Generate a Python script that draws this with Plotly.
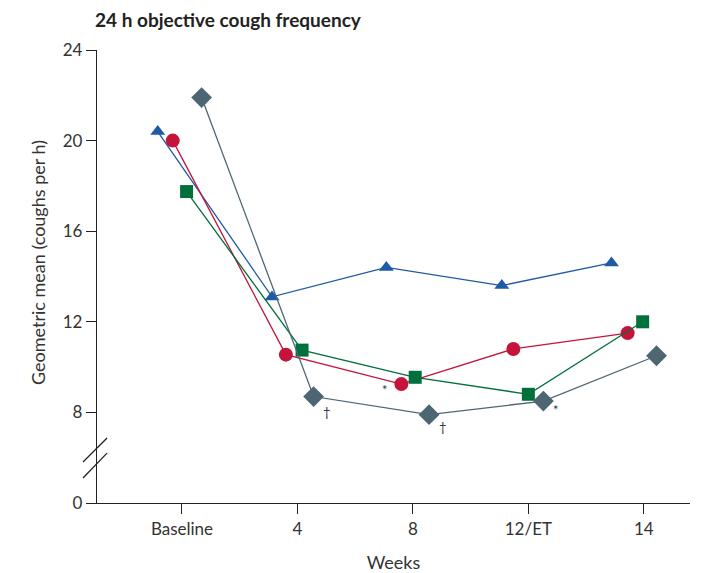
import plotly.graph_objects as go

# ---- data ----
week_labels = ["Baseline", "4", "8", "12/ET", "14"]
week_pos = [0, 1, 2, 3, 4]

tri_x = [-0.21, 0.78, 1.77, 2.77, 3.72]
tri_y = [20.4, 13.1, 14.4, 13.6, 14.6]

circ_x = [-0.08, 0.90, 1.90, 2.87, 3.86]
circ_y = [20.0, 10.55, 9.25, 10.8, 11.5]

sq_x = [0.04, 1.04, 2.02, 3.00, 3.99]
sq_y = [17.75, 10.75, 9.55, 8.8, 12.0]

dia_x = [0.17, 1.14, 2.14, 3.13, 4.11]
dia_y = [21.9, 8.7, 7.9, 8.5, 10.5]

y_tickvals = [4, 8, 12, 16, 20, 24]
y_ticktext = ["0", "8", "12", "16", "20", "24"]

FONT = "Lato, Open Sans, sans-serif"
TXT = "#333333"

# page body has an 8px margin, so figure coordinates are offset by 8px
W, H = 712, 565

series = [
    ("Triangle", tri_x, tri_y, "#1f5aa6", "triangle-up", 13),
    ("Circle", circ_x, circ_y, "#c4143c", "circle", 14),
    ("Square", sq_x, sq_y, "#00703c", "square", 13),
    ("Diamond", dia_x, dia_y, "#4d6672", "diamond", 16),
]

fig = go.Figure()
for name, xs, ys, col, sym, sz in series:
    fig.add_trace(go.Scatter(
        x=xs, y=ys, name=name, mode="lines+markers",
        line=dict(color=col, width=1.3),
        marker=dict(color=col, symbol=sym, size=sz, line=dict(width=0)),
        showlegend=False,
    ))

# significance marks: (x, y, text, xshift, yshift)
marks = [
    (circ_x[2], circ_y[2], "*", -16, -6),
    (dia_x[1], dia_y[1], "†", 13, -15),
    (dia_x[2], dia_y[2], "†", 14, -12),
    (dia_x[3], dia_y[3], "*", 13, -9),
]
for mx, my, t, xs_, ys_ in marks:
    fig.add_annotation(x=mx, y=my, text=t, showarrow=False, xshift=xs_, yshift=ys_,
                       font=dict(family=FONT, size=13, color="#2b3a44"))

# axis break slashes
for (x0, y0, x1, y1) in [(-0.0236, 0.0905, 0.0169, 0.1435), (-0.0236, 0.0552, 0.0169, 0.110)]:
    fig.add_shape(type="line", xref="paper", yref="paper", x0=x0, y0=y0, x1=x1, y1=y1,
                  line=dict(color="#222222", width=1.3))

fig.add_annotation(xref="paper", yref="paper", x=-0.0995, y=0.532, xanchor="center", yanchor="middle",
                   text="Geometric mean (coughs per h)",
                   textangle=-90, showarrow=False, font=dict(family=FONT, size=18, color=TXT))

fig.update_layout(
    width=W, height=H,
    margin=dict(l=89, r=30, t=42, b=70),
    paper_bgcolor="white", plot_bgcolor="white",
    font=dict(family=FONT, size=17, color=TXT),
    title=dict(text="<b>24 h objective cough frequency</b>", x=87/W, xanchor="left",
               y=1 - 12/H, yanchor="middle", font=dict(family=FONT, size=19, color="#222222")),
    xaxis=dict(range=[-0.736, 4.40], tickvals=week_pos, ticktext=week_labels,
               showline=True, linecolor="#222222", linewidth=1.3, ticks="outside",
               ticklen=10, tickcolor="#222222", showgrid=False, zeroline=False,
               tickfont=dict(size=17), automargin=False,
               title=dict(text="Weeks", standoff=18, font=dict(family=FONT, size=18, color=TXT))),
    yaxis=dict(range=[4, 24], tickvals=y_tickvals, ticktext=y_ticktext,
               showline=True, linecolor="#222222", linewidth=1.3, ticks="outside",
               ticklen=10, tickcolor="#222222", showgrid=False, zeroline=False,
               tickfont=dict(size=17), automargin=False),
)

fig.write_html("out.html")
